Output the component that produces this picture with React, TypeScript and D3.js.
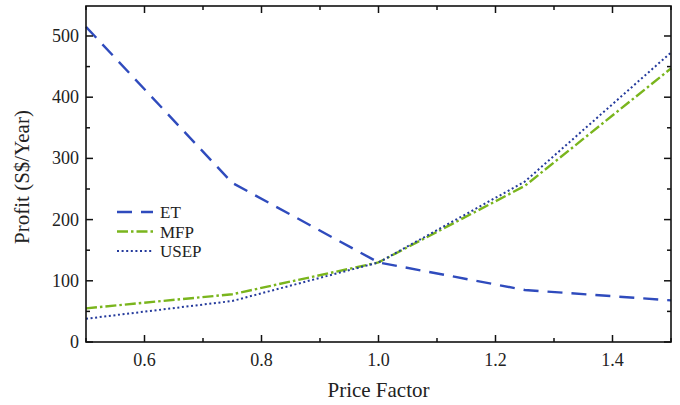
import React, { useEffect, useRef } from "react";
import * as d3 from "d3";

const priceFactor = [0.5, 0.75, 1.0, 1.25, 1.5];
const etValues = [515, 260, 130, 85, 68];
const mfpValues = [55, 78, 130, 255, 447];
const usepValues = [38, 67, 130, 262, 473];

const xTicks = [0.6, 0.8, 1.0, 1.2, 1.4];
const yTicks = [0, 100, 200, 300, 400, 500];

const seriesList = [
	{ name: "ET", values: etValues, color: "#2f4bbd", dash: "15,9", width: 2.4 },
	{ name: "MFP", values: mfpValues, color: "#7ab51d", dash: "11,3,2.5,3", width: 2.4 },
	{ name: "USEP", values: usepValues, color: "#243a9c", dash: "2,2.6", width: 2 },
];

const W = 680;
const H = 405;
const margin = { top: 6, right: 9, bottom: 63, left: 86 };

export default function App() {
	const ref = useRef<SVGSVGElement | null>(null);

	useEffect(() => {
		if (!ref.current) return;
		const svg = d3.select(ref.current);
		svg.selectAll("*").remove();

		const x = d3.scaleLinear().domain([0.5, 1.5]).range([margin.left, W - margin.right]);
		const y = d3.scaleLinear().domain([0, 549]).range([H - margin.bottom, margin.top]);
		const font = "'Liberation Serif', 'Times New Roman', serif";

		const g = svg.append("g");

		// lines
		const line = d3
			.line<number>()
			.x((_, i) => x(priceFactor[i]))
			.y((d) => y(d));

		seriesList.forEach((s) => {
			g.append("path")
				.datum(s.values)
				.attr("d", line)
				.attr("fill", "none")
				.attr("stroke", s.color)
				.attr("stroke-width", s.width)
				.attr("stroke-dasharray", s.dash);
		});

		// frame
		const x0 = x(0.5), x1 = x(1.5), y0 = y(0), y1 = margin.top;
		g.append("rect")
			.attr("x", x0)
			.attr("y", y1)
			.attr("width", x1 - x0)
			.attr("height", y0 - y1)
			.attr("fill", "none")
			.attr("stroke", "#111")
			.attr("stroke-width", 1.6);

		// ticks, all pointing inward
		const xMinor = d3.range(0.5, 1.51, 0.1).map((v) => +v.toFixed(2));
		xMinor.forEach((v) => {
			const major = xTicks.some((t) => Math.abs(t - v) < 1e-6);
			const len = major ? 7 : 4;
			g.append("line").attr("x1", x(v)).attr("x2", x(v)).attr("y1", y0).attr("y2", y0 - len).attr("stroke", "#111").attr("stroke-width", 1.5);
			g.append("line").attr("x1", x(v)).attr("x2", x(v)).attr("y1", y1).attr("y2", y1 + len).attr("stroke", "#111").attr("stroke-width", 1.5);
		});
		const yMinor = d3.range(0, 549, 50);
		yMinor.forEach((v) => {
			const len = v % 100 === 0 ? 7 : 4;
			g.append("line").attr("x1", x0).attr("x2", x0 + len).attr("y1", y(v)).attr("y2", y(v)).attr("stroke", "#111").attr("stroke-width", 1.5);
			g.append("line").attr("x1", x1).attr("x2", x1 - len).attr("y1", y(v)).attr("y2", y(v)).attr("stroke", "#111").attr("stroke-width", 1.5);
		});

		// tick labels
		g.selectAll(".xl")
			.data(xTicks)
			.enter()
			.append("text")
			.attr("x", (d) => x(d))
			.attr("y", y0 + 24)
			.attr("text-anchor", "middle")
			.attr("font-family", font)
			.attr("font-size", 18)
			.attr("fill", "#222")
			.text((d) => d.toFixed(1));

		g.selectAll(".yl")
			.data(yTicks)
			.enter()
			.append("text")
			.attr("x", x0 - 7)
			.attr("y", (d) => y(d) + 6)
			.attr("text-anchor", "end")
			.attr("font-family", font)
			.attr("font-size", 18)
			.attr("fill", "#222")
			.text((d) => String(d));

		// axis titles
		g.append("text")
			.attr("x", (x0 + x1) / 2)
			.attr("y", 397)
			.attr("text-anchor", "middle")
			.attr("font-family", font)
			.attr("font-size", 21)
			.attr("fill", "#222")
			.text("Price Factor");

		g.append("text")
			.attr("transform", `translate(29,177) rotate(-90)`)
			.attr("text-anchor", "middle")
			.attr("font-family", font)
			.attr("font-size", 21)
			.attr("fill", "#222")
			.text("Profit (S$/Year)");

		// legend
		const legend = g.append("g").attr("transform", "translate(117,212)");
		seriesList.forEach((s, i) => {
			const row = legend.append("g").attr("transform", `translate(0,${i * 19.5})`);
			row.append("line")
				.attr("x1", 0)
				.attr("x2", 36)
				.attr("y1", 0)
				.attr("y2", 0)
				.attr("stroke", s.color)
				.attr("stroke-width", s.width)
				.attr("stroke-dasharray", s.dash);
			row.append("text")
				.attr("x", 43)
				.attr("y", 6)
				.attr("font-family", font)
				.attr("font-size", 17)
				.attr("fill", "#222")
				.text(s.name);
		});
	}, []);

	return (
		<div style={{ position: "absolute", left: 0, top: 0 }}>
			<svg ref={ref} width={W} height={H} style={{ display: "block" }} />
		</div>
	);
}
